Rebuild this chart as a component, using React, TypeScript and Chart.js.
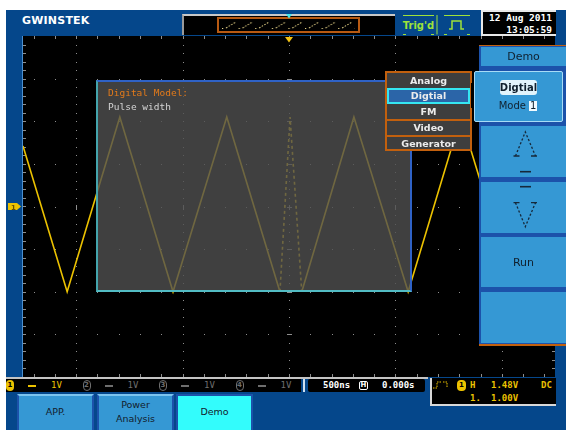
import React, { useEffect, useRef } from "react";
import { Chart, registerables } from "chart.js";
Chart.register(...registerables);

// ---- data (time in divisions, CH1 amplitude in volts at 1 V/div) ----
const timeDiv = [0, 0.83, 1.82, 2.82, 3.83, 4.83, 5.02, 5.24, 6.22, 7.24, 8.23, 9.23, 10];
const ch1Volts = [1.42, -2.0, 2.1, -2.0, 2.1, -2.0, 2.1, -2.0, 2.1, -2.0, 2.1, -2.0, 1.16];
const glitchSegmentStarts = [5, 6];
const xDivisions = 10;
const yHalfDivisions = 4;

const channelNames = ["1", "2", "3", "4"];
const channelScales = ["1V", "1V", "1V", "1V"];
const popupItems = ["Analog", "Digtial", "FM", "Video", "Generator"];
const selectedPopup = 1;
const bottomKeys = ["APP.", "Power Analysis", "Demo"];
const dateText = "12 Aug 2011";
const timeText = "13:05:59";
const timebaseText = "500ns";
const hPosText = "0.000s";
const trigLevelText = "1.48V";
const trigCouplingText = "DC";
const ch1OffsetText = "1.00V";

const BLUE = "#05478b";
const KEY = "#3598d4";
const KEYEDGE = "#1c52aa";
const DOT = "#8e8e8e";
const YEL = "#ecc200";

const graticule = {
  id: "graticule",
  beforeDatasetsDraw(chart: any) {
    const { ctx, scales } = chart;
    const x = scales.x, y = scales.y;
    const X = (v: number) => Math.round(x.getPixelForValue(v));
    const Y = (v: number) => Math.round(y.getPixelForValue(v));
    ctx.save();
    ctx.fillStyle = DOT;
    // vertical dotted lines at odd divisions
    for (let d = 1; d < xDivisions; d += 2) {
      for (let v = -yHalfDivisions; v <= yHalfDivisions + 0.01; v += 0.2) ctx.fillRect(X(d), Y(v), 1, 1);
    }
    // horizontal dotted lines at each division
    for (let v = -yHalfDivisions + 1; v < yHalfDivisions; v++) {
      for (let t = 0.2; t < xDivisions; t += 0.4) ctx.fillRect(X(t), Y(v), 1, 1);
    }
    // edge ticks
    for (let t = 0.2; t < xDivisions; t += 0.4) {
      ctx.fillRect(X(t), Y(yHalfDivisions), 1, 3);
      ctx.fillRect(X(t), Y(-yHalfDivisions) - 3, 1, 3);
    }
    for (let v = -yHalfDivisions + 0.2; v < yHalfDivisions; v += 0.2) {
      ctx.fillRect(X(0), Y(v), 3, 1);
      ctx.fillRect(X(xDivisions) - 3, Y(v), 3, 1);
    }
    // center line markings
    for (let v = -yHalfDivisions + 1; v < yHalfDivisions; v++) ctx.fillRect(X(5) - 2, Y(v), 5, 1);
    for (let d = 1; d < xDivisions; d += 2) ctx.fillRect(X(d), Y(0) - 2, 1, 5);
    ctx.restore();
  },
};

const abs = (x: number, y: number, w: number, h: number, extra: any = {}) => ({
  position: "absolute" as const,
  left: x,
  top: y,
  width: w,
  height: h,
  boxSizing: "border-box" as const,
  ...extra,
});

const center = {
  display: "flex",
  alignItems: "center",
  justifyContent: "center",
  lineHeight: 1,
};

export default function App() {
  const ref = useRef<HTMLCanvasElement>(null);
  useEffect(() => {
    const chart = new Chart(ref.current!, {
      type: "line",
      data: {
        datasets: [
          {
            data: timeDiv.map((t, i) => ({ x: t, y: ch1Volts[i] })),
            borderColor: YEL,
            borderWidth: 1.6,
            pointRadius: 0,
            tension: 0,
            segment: {
              borderDash: (c: any) => (glitchSegmentStarts.includes(c.p0DataIndex) ? [3, 3] : undefined),
            },
          } as any,
        ],
      },
      options: {
        animation: false,
        responsive: false,
        maintainAspectRatio: false,
        events: [],
        layout: { padding: 0 },
        plugins: { legend: { display: false }, tooltip: { enabled: false } },
        scales: {
          x: { type: "linear", min: 0, max: xDivisions, display: false },
          y: { type: "linear", min: -yHalfDivisions, max: yHalfDivisions, display: false },
        },
      },
      plugins: [graticule],
    });
    return () => chart.destroy();
  }, []);

  const mono = "'DejaVu Sans Mono', monospace";
  const sans = "'DejaVu Sans', sans-serif";

  return (
    <div style={{ position: "fixed", left: 0, top: 0, width: 566, height: 430, background: "#fff", overflow: "hidden", fontFamily: sans }}>
      {/* frame */}
      <div style={abs(6, 10, 560, 420, { background: BLUE })} />

      {/* graticule canvas */}
      <canvas ref={ref} width={532} height={341} style={abs(23, 36, 532, 341, { background: "#000", display: "block" })} />
      <div style={abs(22, 36, 1, 341, { background: "#4a8fd0" })} />

      {/* header */}
      <div style={abs(22, 14, 70, 14, { color: "#fff", fontWeight: 900, fontSize: 11, letterSpacing: 0.2, lineHeight: "14px" })}>GWINSTEK</div>
      <div style={abs(182, 14, 213, 21, { background: "#000", borderTop: "2px solid #c8c8c8", borderLeft: "2px solid #9a9a9a" })} />
      <div style={abs(217, 17, 143, 16, { border: "2px solid #b85a12" })} />
      <div style={abs(403, 15, 31, 20, { ...center, color: "#9ee23a", fontSize: 10, fontWeight: 700, borderTop: "1px solid #9ee23a", fontFamily: sans })}>Trig'd</div>
      <div style={abs(444, 15, 26, 20, { borderTop: "1px solid #9ee23a" })} />
      <div style={abs(481, 10, 75, 26, { background: "#000", border: "2px solid #e8e8e8", borderRight: "none" })} />
      <div style={abs(484, 12, 68, 11, { color: "#fff", fontFamily: mono, fontWeight: 700, fontSize: 9.5, lineHeight: "11px", textAlign: "right" })}>{dateText}</div>
      <div style={abs(484, 24, 68, 11, { color: "#fff", fontFamily: mono, fontWeight: 700, fontSize: 9.5, lineHeight: "11px", textAlign: "right" })}>{timeText}</div>

      {/* info overlay box */}
      <div style={abs(96, 80, 316, 212, { background: "rgba(80,80,80,0.8)", borderTop: "2px solid #2f62c6", borderRight: "2px solid #2f62c6", borderLeft: "2px solid #44a4ac", borderBottom: "2px solid #52bcc4" })} />
      <div style={abs(108, 87, 200, 12, { color: "#e27a1a", fontFamily: mono, fontSize: 9.5, lineHeight: "12px" })}>Digital Model:</div>
      <div style={abs(108, 101, 200, 12, { color: "#d4d4d4", fontFamily: mono, fontSize: 9.5, lineHeight: "12px" })}>Pulse width</div>

      {/* popup list */}
      <div style={abs(385, 71, 87, 80, { background: "#3e3e3e", border: "2px solid #c2600e" })} />
      {popupItems.map((it, i) => {
        const top = 73 + i * 15.4;
        const sel = i === selectedPopup;
        return (
          <div
            key={it}
            style={abs(387, top, 83, 15.4, {
              ...center,
              color: "#ececec",
              fontWeight: 700,
              fontSize: 9.5,
              background: sel ? "#2b65a8" : "transparent",
              border: sel ? "2px solid #35e6f2" : "none",
              borderTop: sel ? "2px solid #35e6f2" : i > 0 && i !== selectedPopup + 1 ? "2px solid #c2600e" : "none",
            })}
          >
            {it}
          </div>
        );
      })}
      <div style={abs(471, 83, 4, 25, { background: "#000" })} />

      {/* side menu */}
      <div style={abs(479, 45, 87, 301, { background: KEYEDGE, borderTop: "1px solid #c2600e", borderBottom: "2px solid #c2600e" })} />
      <div style={abs(481, 47, 85, 19, { ...center, background: KEY, color: "#10202e", fontSize: 11 })}>Demo</div>
      <div style={abs(474, 71, 89, 51, { background: KEY, border: "1px solid #a8dcf6", borderRadius: 2 })} />
      <div style={abs(500, 80, 37, 15, { ...center, background: "#e2f4fc", borderRadius: 3, color: "#10202e", fontWeight: 700, fontSize: 10 })}>Digtial</div>
      <div style={abs(496, 99, 44, 14, { ...center, color: "#10202e", fontSize: 10 })}>
        Mode <span style={{ background: "#f2fbff", marginLeft: 3, padding: "0 1px" }}>1</span>
      </div>
      <div style={abs(481, 126, 85, 51, { background: KEY })} />
      <div style={abs(481, 182, 85, 51, { background: KEY })} />
      <div style={abs(481, 237, 85, 50, { ...center, background: KEY, color: "#10202e", fontSize: 11 })}>Run</div>
      <div style={abs(481, 292, 85, 51, { background: KEY })} />

      {/* bottom channel bar */}
      <div style={abs(6, 377, 422, 2, { background: "#c4c4c4" })} />
      <div style={abs(6, 379, 295, 13, { background: "#000" })} />
      {channelNames.map((c, i) => {
        const on = i === 0;
        const col = on ? YEL : "#6e6e6e";
        const x0 = 6 + i * 76.5;
        return (
          <React.Fragment key={c}>
            <div style={abs(x0, 380, 8, 11, { ...center, borderRadius: 4, background: on ? YEL : "transparent", border: on ? "none" : `1px solid ${col}`, color: on ? "#000" : col, fontSize: 7, fontWeight: 700 })}>{c}</div>
            <div style={abs(x0 + 22, 385, 8, 2, { background: col })} />
            <div style={abs(x0 + 45, 380, 20, 11, { color: col, fontFamily: mono, fontSize: 9, lineHeight: "11px" })}>{channelScales[i]}</div>
          </React.Fragment>
        );
      })}
      <div style={abs(303, 379, 2, 13, { background: "#cfe0f0" })} />
      <div style={abs(308, 379, 117, 13, { background: "#000", borderRadius: 2 })} />
      <div style={abs(323, 379, 36, 13, { color: "#fff", fontFamily: mono, fontWeight: 700, fontSize: 9, lineHeight: "13px" })}>{timebaseText}</div>
      <div style={abs(359, 381, 9, 9, { ...center, border: "1px solid #fff", borderRadius: 2, color: "#fff", fontSize: 7, fontWeight: 700 })}>H</div>
      <div style={abs(382, 379, 40, 13, { color: "#fff", fontFamily: mono, fontWeight: 700, fontSize: 9, lineHeight: "13px" })}>{hPosText}</div>

      {/* trigger info box */}
      <div style={abs(430, 378, 126, 28, { background: "#000", borderLeft: "2px solid #d8d8d8", borderBottom: "2px solid #d8d8d8" })} />
      <div style={abs(457, 380, 9, 11, { ...center, borderRadius: 4, background: YEL, color: "#000", fontSize: 7, fontWeight: 700 })}>1</div>
      <div style={abs(470, 380, 10, 11, { color: YEL, fontFamily: mono, fontWeight: 700, fontSize: 9, lineHeight: "11px" })}>H</div>
      <div style={abs(491, 380, 32, 11, { color: YEL, fontFamily: mono, fontWeight: 700, fontSize: 9, lineHeight: "11px" })}>{trigLevelText}</div>
      <div style={abs(541, 380, 14, 11, { color: YEL, fontFamily: mono, fontWeight: 700, fontSize: 9, lineHeight: "11px" })}>{trigCouplingText}</div>
      <div style={abs(470, 393, 12, 11, { color: YEL, fontFamily: mono, fontWeight: 700, fontSize: 9, lineHeight: "11px" })}>1.</div>
      <div style={abs(491, 393, 32, 11, { color: YEL, fontFamily: mono, fontWeight: 700, fontSize: 9, lineHeight: "11px" })}>{ch1OffsetText}</div>

      {/* bottom soft keys */}
      {bottomKeys.map((k, i) => {
        const lefts = [17, 97, 176];
        const isDemo = i === 2;
        return (
          <div
            key={k}
            style={abs(lefts[i], 394, 77, 40, {
              ...center,
              background: isDemo ? "#33fcfc" : KEY,
              border: `2px solid ${KEYEDGE}`,
              borderTop: isDemo ? `2px solid ${KEYEDGE}` : "2px solid #7cc4ee",
              color: "#13202c",
              fontSize: 9.5,
              textAlign: "center",
              lineHeight: "14px",
              paddingBottom: 4,
              whiteSpace: "pre-line",
            })}
          >
            {k === "Power Analysis" ? "Power\nAnalysis" : k}
          </div>
        );
      })}

      {/* vector decorations */}
      <svg width={566} height={430} style={{ position: "absolute", left: 0, top: 0, pointerEvents: "none" }}>
        <defs>
          <pattern id="saw" x={222} y={0} width={16.6} height={40} patternUnits="userSpaceOnUse">
            <path d="M0 28.5 H1.2 M4 28 L13 22.5" stroke="#ecd88a" strokeWidth={1} strokeDasharray="1.5 1.5" fill="none" />
          </pattern>
        </defs>
        <rect x={221} y={20} width={134} height={11} fill="url(#saw)" />
        <path d="M286 14 H292 L289 18.5 Z" fill="#44e8ec" />
        <path d="M285 37 H293 L289 42.5 Z" fill="#f2c214" />
        <path d="M8 203 H17 L21 206.5 L17 210 H8 Z" fill={YEL} />
        <text x={11} y={209.5} fontSize={7} fontWeight={700} fill="#6a5000" fontFamily={sans}>1</text>
        {/* trig'd bracket marks */}
        <path d="M403 34.5 H406 M431 34.5 H434 M437 15 V34.5 M444 34.5 H447 M467 34.5 H470" stroke="#9ee23a" strokeWidth={1} />
        <path d="M449 29 H452 V21 H461 V29 H464" stroke="#9ee23a" strokeWidth={1.5} fill="none" />
        {/* arrow keys */}
        <g stroke="#16283a" fill="none" strokeWidth={1.3}>
          <path d="M515.5 156 L525.3 132 L535.5 156" strokeDasharray="2.2 2" />
          <path d="M513.5 156 H519.5 M531 156 H537" />
          <path d="M520 171.7 H531" strokeWidth={1.6} />
          <path d="M520 186.7 H531" strokeWidth={1.6} />
          <path d="M513.5 202.7 H519.5 M531 202.7 H537" />
          <path d="M515.5 202.7 L525.3 226.7 L535.5 202.7" strokeDasharray="2.2 2" />
        </g>
        {/* trigger source edge icon */}
        <path d="M433 388 H437 V382 H441 M443 382 H447 V388" stroke={YEL} strokeWidth={1} strokeDasharray="1.5 1" fill="none" />
      </svg>
    </div>
  );
}
